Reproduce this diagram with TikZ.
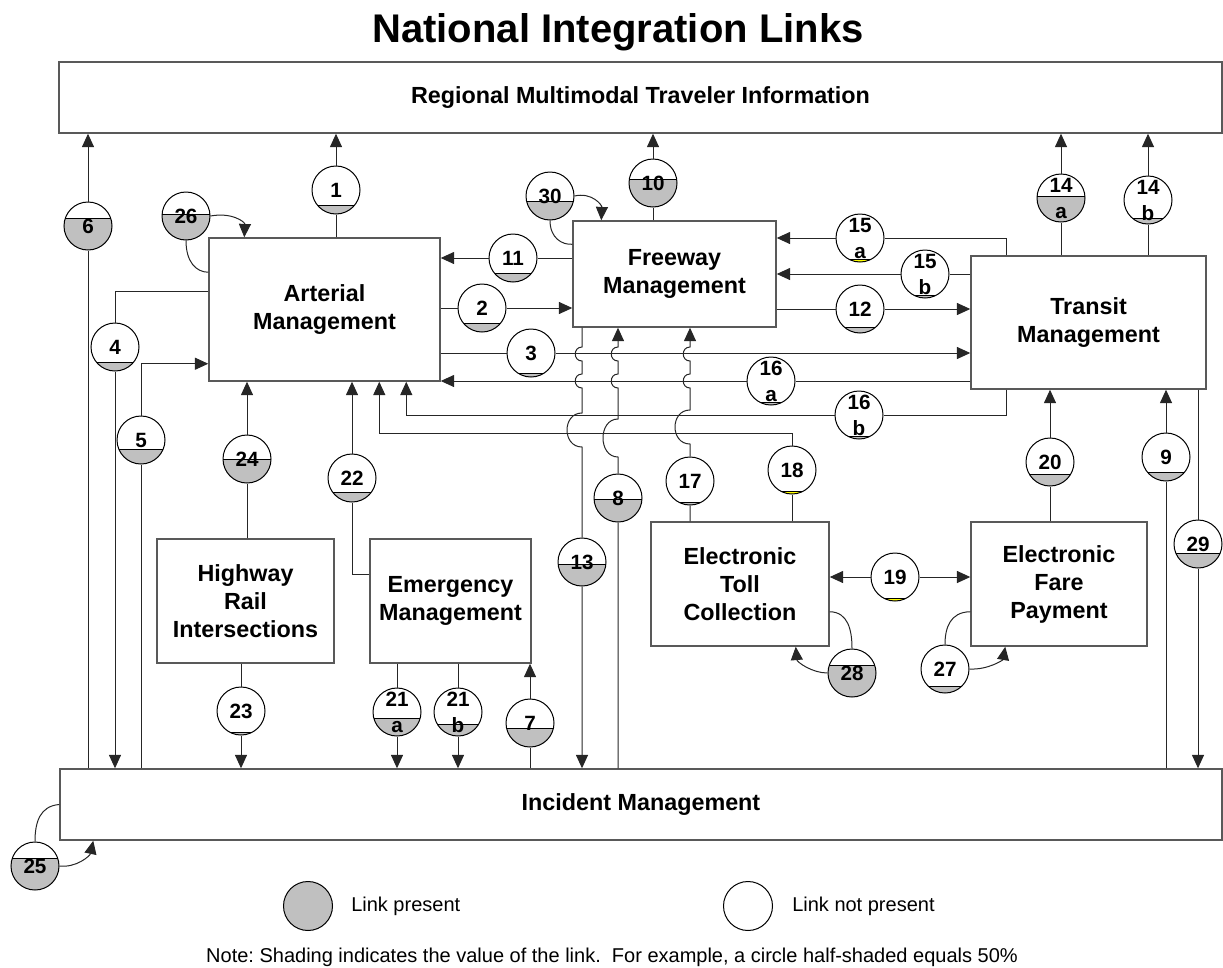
\documentclass[tikz,border=0pt]{standalone}
\usepackage{fontspec}
\setmainfont{Liberation Sans}
\usetikzlibrary{arrows.meta,calc}
\definecolor{linkgray}{RGB}{192,192,192}
\definecolor{linkyellow}{RGB}{255,255,0}
\frenchspacing
\tikzset{box/.style={draw=black!65, line width=1.1pt, align=center, inner sep=0pt,
  font=\bfseries\fontsize{17.5}{21}\selectfont},
link/.style={circle, draw=black, line width=0.75pt, minimum size=36pt, inner sep=0pt,
  align=center, font=\bfseries\fontsize{15.5}{19.5}\selectfont},
conn/.style={draw=black!85, line width=0.75pt},
arr/.style={conn, -{Triangle[length=10pt,width=9pt]}},
%legend circles are a little larger
legendcirc/.style={circle, draw=black, line width=0.75pt, minimum size=36.75pt, inner sep=0pt}}

% shaded circle: name, centre, level (px below centre), colour, label
\newcommand{\linkcircle}[5]{%
  \begin{scope}
    \clip (#2) circle[radius=18pt];
    \fill[#4] ($(#2)+(-30,#3)$) rectangle ($(#2)+(30,30)$);
    \draw[line width=0.6pt] ($(#2)+(-30,#3)$) -- ++(60,0);
  \end{scope}
  \node[link] (#1) at (#2) {#5};}

\begin{document}
\begin{tikzpicture}[x=0.75pt,y=-0.75pt]
\useasboundingbox (0,0) rectangle (1223,967);

\node[anchor=base, font=\bfseries\fontsize{30}{36}\selectfont] (title) at (618,42) {National Integration Links};

% systems
\node[box, minimum width=872.25pt, minimum height=53.25pt] (reg) at (640.5,97.5) {Regional Multimodal Traveler Information};
\node[box, minimum width=173.25pt, minimum height=107.25pt] (art) at (324.5,309.5) {Arterial\\Management};
\node[box, minimum width=152.25pt, minimum height=79.5pt] (fwy) at (674.5,274) {Freeway\\Management};
\node[box, minimum width=176.25pt, minimum height=99.75pt] (trn) at (1088.5,322.5) {Transit\\Management};
\node[box, minimum width=132.75pt, minimum height=93pt] (hri) at (245.5,601) {Highway\\Rail\\Intersections};
\node[box, minimum width=120.75pt, minimum height=93pt] (emg) at (450.5,601) {Emergency\\Management};
\node[box, minimum width=133.5pt, minimum height=93pt] (etc) at (740,584) {Electronic\\Toll\\Collection};
\node[box, minimum width=132pt, minimum height=93pt] (efp) at (1059,584) {Electronic\\Fare\\Payment};
\node[box, minimum width=871.5pt, minimum height=53.25pt] (inc) at (641,804.5) {Incident Management};

% links
\linkcircle{c1}{336,190}{15}{linkgray}{1}
\linkcircle{c2}{482,308}{15}{linkgray}{2}
\linkcircle{c3}{531,353}{20}{linkgray}{3}
\linkcircle{c4}{115,347}{15}{linkgray}{4}
\linkcircle{c5}{141,440}{9}{linkgray}{5}
\linkcircle{c6}{88,226}{-8}{linkgray}{6}
\linkcircle{c7}{530,723}{5}{linkgray}{7}
\linkcircle{c8}{618,498}{1}{linkgray}{8}
\linkcircle{c9}{1166,457}{15}{linkgray}{9}
\linkcircle{c10}{653,183}{-4}{linkgray}{10}
\linkcircle{c11}{513,258}{15}{linkgray}{11}
\linkcircle{c12}{860,309}{18}{linkgray}{12}
\linkcircle{c13}{582,562}{2}{linkgray}{13}
\linkcircle{c14a}{1061,198}{-2}{linkgray}{14\\a}
\linkcircle{c14b}{1148,200}{18}{linkgray}{14\\b}
\linkcircle{c15a}{860,238}{21}{linkyellow}{15\\a}
\linkcircle{c15b}{925,274}{21}{linkgray}{15\\b}
\linkcircle{c16a}{771,381}{21}{linkgray}{16\\a}
\linkcircle{c16b}{859,415}{21}{linkgray}{16\\b}
\linkcircle{c17}{690,481}{21}{linkgray}{17}
\linkcircle{c18}{792,470}{21}{linkyellow}{18}
\linkcircle{c19}{895,577}{21}{linkyellow}{19}
\linkcircle{c20}{1050,462}{12}{linkgray}{20}
\linkcircle{c21a}{397,712}{6}{linkgray}{21\\a}
\linkcircle{c21b}{458,712}{12}{linkgray}{21\\b}
\linkcircle{c22}{352,478}{14}{linkgray}{22}
\linkcircle{c23}{241,711}{21}{linkgray}{23}
\linkcircle{c24}{247,459}{0}{linkgray}{24}
\linkcircle{c25}{35,866}{-8}{linkgray}{25}
\linkcircle{c26}{186,216}{-2}{linkgray}{26}
\linkcircle{c27}{945,669}{17}{linkgray}{27}
\linkcircle{c28}{852,673}{-8}{linkgray}{28}
\linkcircle{c29}{1198,544}{9}{linkgray}{29}
\linkcircle{c30}{550,196}{5}{linkgray}{30}

\coordinate (j18) at (792,433);

% connectors
\draw[arr] (art.north -| c1) -- (c1) -- (reg.south -| c1);
\draw[arr] (inc.north -| c6) -- (c6) -- (reg.south -| c6);
\draw[arr] (fwy.north -| c10) -- (c10) -- (reg.south -| c10);
\draw[arr] (trn.north -| c14a) -- (c14a) -- (reg.south -| c14a);
\draw[arr] (trn.north -| c14b) -- (c14b) -- (reg.south -| c14b);
\draw[arr] ($(art.north west)+(0,54)$) -| (c4) -- (inc.north -| c4);
\draw[arr] (inc.north -| c5) -- (c5) |- ($(art.south west)+(0,-18)$);
\draw[arr] (hri.north -| c24) -- (c24) -- (art.south -| c24);
\draw[arr] ($(emg.north west)+(0,36)$) -| (c22) -- (art.south -| c22);
\draw[arr] (hri.south -| c23) -- (c23) -- (inc.north -| c23);
\draw[arr] (emg.south -| c21a) -- (c21a) -- (inc.north -| c21a);
\draw[arr] (emg.south -| c21b) -- (c21b) -- (inc.north -| c21b);
\draw[arr] (inc.north -| c7) -- (c7) -- (emg.south -| c7);
\draw[arr] (fwy.west |- c11) -- (c11) -- (art.east |- c11);
\draw[arr] (art.east |- c2) -- (c2) -- (fwy.west |- c2);
\draw[arr] (art.east |- c3) -- (c3) -- (trn.west |- c3);
\draw[arr] (trn.west |- c16a) -- (c16a) -- (art.east |- c16a);
\draw[arr] ($(trn.south west)+(36,0)$) |- (c16b) -| ($(art.south west)+(198,0)$);
\draw[arr] ($(trn.north west)+(36,0)$) |- (c15a) -- (fwy.east |- c15a);
\draw[arr] (trn.west |- c15b) -- (c15b) -- (fwy.east |- c15b);
\draw[arr] (fwy.east |- c12) -- (c12) -- (trn.west |- c12);
\draw[arr] (etc.north -| c18) -- (c18) -- (j18) -| ($(art.south west)+(171,0)$);
\draw[arr] (c19) -- (etc.east |- c19);
\draw[arr] (c19) -- (efp.west |- c19);
\draw[arr] (efp.north -| c20) -- (c20) -- (trn.south -| c20);
\draw[arr] (inc.north -| c9) -- (c9) -- (trn.south -| c9);
\draw[arr] (trn.south -| c29) -- (c29) -- (inc.north -| c29);

% lines hopping over the crossings
\draw[arr] (fwy.south -| c13) -- (582,347) .. controls (573,347) and (573,361) .. (582,361)
  -- (582,374) .. controls (573,374) and (573,388) .. (582,388)
  -- (582,413) .. controls (562,413) and (562,447) .. (582,447) -- (c13) -- (inc.north -| c13);
\draw[arr] (inc.north -| c8) -- (c8) -- (618,457) .. controls (598,457) and (598,419) .. (618,419)
  -- (618,388) .. controls (609,388) and (609,374) .. (618,374)
  -- (618,361) .. controls (609,361) and (609,347) .. (618,347) -- (fwy.south -| c8);
\draw[arr] (etc.north -| c17) -- (c17) -- (690,444) .. controls (670,444) and (670,410) .. (690,410)
  -- (690,388) .. controls (681,388) and (681,374) .. (690,374)
  -- (690,361) .. controls (681,361) and (681,347) .. (690,347) -- (fwy.south -| c17);

% loops
\draw[arr] (c26.east) .. controls (232,212) and (245,222) .. ($(art.north west)+(36,0)$);
\draw[conn] (c26.south) .. controls (186,262) and (196,272) .. ($(art.north west)+(0,35)$);
\draw[arr] (c30.east) .. controls (592,192) and (602,205) .. ($(fwy.north west)+(29,0)$);
\draw[conn] (c30.south) .. controls (550,238) and (562,245) .. ($(fwy.north west)+(0,24)$);
\draw[conn] ($(etc.south east)+(0,-35)$) .. controls (848,612) and (852,630) .. (c28.north);
\draw[arr] (c28.west) .. controls (812,673) and (797,662) .. ($(etc.south east)+(-34,0)$);
\draw[conn] ($(efp.south west)+(0,-35)$) .. controls (950,612) and (945,628) .. (c27.north);
\draw[arr] (c27.east) .. controls (988,670) and (1003,660) .. ($(efp.south west)+(35,0)$);
\draw[conn] (inc.west) .. controls (40,806) and (35,822) .. (c25.north);
\draw[arr] (c25.east) .. controls (76,868) and (90,856) .. ($(inc.south west)+(34,0)$);

% legend
\node[legendcirc, fill=linkgray] (lgon) at (308,906) {};
\node[anchor=west, inner sep=0pt, font=\fontsize{15}{18}\selectfont] (lgontxt) at (351,906) {Link present};
\node[legendcirc] (lgoff) at (748,906) {};
\node[anchor=west, inner sep=0pt, font=\fontsize{15}{18}\selectfont] (lgofftxt) at (792,906) {Link not present};
\node[anchor=base, font=\fontsize{15}{18}\selectfont] (note) at (612,962) {Note: Shading indicates the value of the link.\ \ For example, a circle half-shaded equals 50\%};
\end{tikzpicture}
\end{document}
